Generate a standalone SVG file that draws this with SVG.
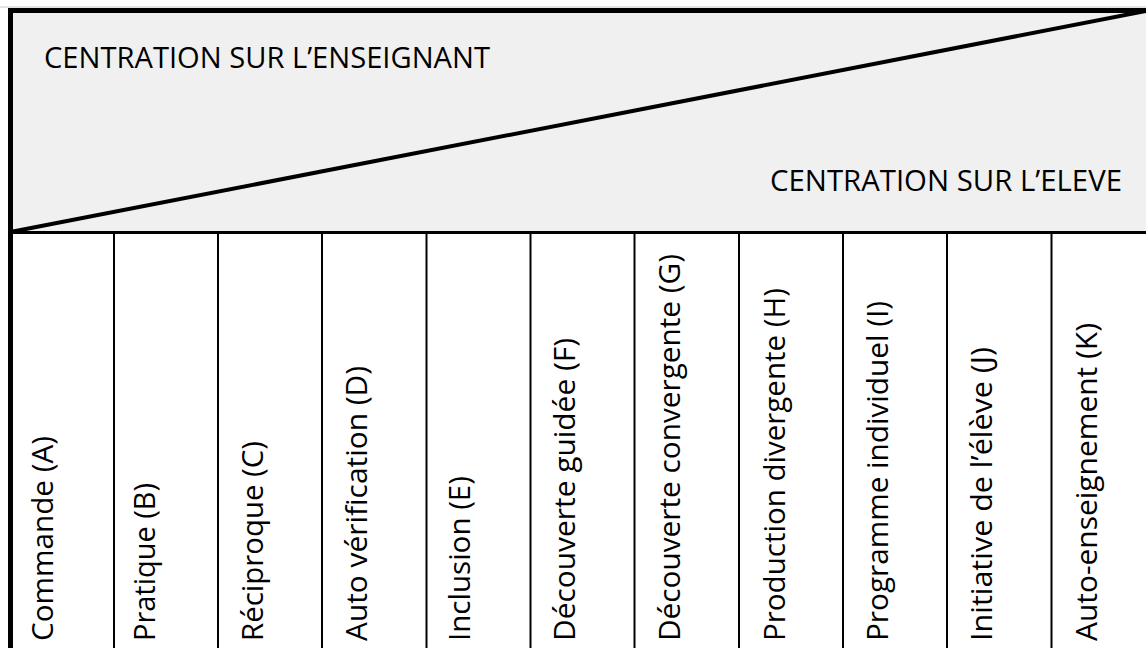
<svg xmlns="http://www.w3.org/2000/svg" width="1146" height="648" viewBox="0 0 1146 648">
  <style>
    .hdr { font-family: "Open Sans", "Liberation Sans", sans-serif; font-size: 30px; fill: #000; }
    .col { font-family: "Open Sans", "Liberation Sans", sans-serif; font-size: 28.5px; fill: #000; }
    .grid { stroke: #000; stroke-width: 2; fill: none; }
  </style>
  <rect x="0" y="0" width="1146" height="648" fill="#ffffff"/>
  <g id="header">
    <rect x="10.5" y="10.5" width="1140" height="222" fill="#f0f0f0"/>
    <line x1="0" y1="7" x2="1146" y2="7" stroke="#c8c8c8" stroke-width="1"/>
    <line x1="8" y1="10.5" x2="1146" y2="10.5" stroke="#000" stroke-width="5"/>
    <line x1="10.5" y1="232.5" x2="1146" y2="232.5" stroke="#000" stroke-width="3"/>
    <line x1="13" y1="231.5" x2="1146" y2="11" stroke="#000" stroke-width="4"/>
    <text class="hdr" x="44" y="68" textLength="446" lengthAdjust="spacingAndGlyphs">CENTRATION SUR L’ENSEIGNANT</text>
    <text class="hdr" x="770" y="191" textLength="352" lengthAdjust="spacingAndGlyphs">CENTRATION SUR L’ELEVE</text>
  </g>
  <g id="connectors">
    <line x1="10.5" y1="8" x2="10.5" y2="648" stroke="#000" stroke-width="5"/>
    <line class="grid" x1="114" y1="233" x2="114" y2="648"/>
    <line class="grid" x1="218" y1="233" x2="218" y2="648"/>
    <line class="grid" x1="322" y1="233" x2="322" y2="648"/>
    <line class="grid" x1="426.5" y1="233" x2="426.5" y2="648"/>
    <line class="grid" x1="530.5" y1="233" x2="530.5" y2="648"/>
    <line class="grid" x1="634.5" y1="233" x2="634.5" y2="648"/>
    <line class="grid" x1="739" y1="233" x2="739" y2="648"/>
    <line class="grid" x1="843" y1="233" x2="843" y2="648"/>
    <line class="grid" x1="947" y1="233" x2="947" y2="648"/>
    <line class="grid" x1="1051.5" y1="233" x2="1051.5" y2="648"/>
  </g>
  <g id="colA"><text class="col" transform="translate(53,641) rotate(-90)" textLength="205" lengthAdjust="spacingAndGlyphs">Commande (A)</text></g>
  <g id="colB"><text class="col" transform="translate(155,641) rotate(-90)" textLength="158" lengthAdjust="spacingAndGlyphs">Pratique (B)</text></g>
  <g id="colC"><text class="col" transform="translate(263,641) rotate(-90)" textLength="200" lengthAdjust="spacingAndGlyphs">Réciproque (C)</text></g>
  <g id="colD"><text class="col" transform="translate(367,641) rotate(-90)" textLength="275" lengthAdjust="spacingAndGlyphs">Auto vérification (D)</text></g>
  <g id="colE"><text class="col" transform="translate(470,641) rotate(-90)" textLength="165" lengthAdjust="spacingAndGlyphs">Inclusion (E)</text></g>
  <g id="colF"><text class="col" transform="translate(575,641) rotate(-90)" textLength="303" lengthAdjust="spacingAndGlyphs">Découverte guidée (F)</text></g>
  <g id="colG"><text class="col" transform="translate(680,641) rotate(-90)" textLength="387" lengthAdjust="spacingAndGlyphs">Découverte convergente (G)</text></g>
  <g id="colH"><text class="col" transform="translate(785,641) rotate(-90)" textLength="353" lengthAdjust="spacingAndGlyphs">Production divergente (H)</text></g>
  <g id="colI"><text class="col" transform="translate(888,641) rotate(-90)" textLength="340" lengthAdjust="spacingAndGlyphs">Programme individuel (I)</text></g>
  <g id="colJ"><text class="col" transform="translate(992,641) rotate(-90)" textLength="294" lengthAdjust="spacingAndGlyphs">Initiative de l’élève (J)</text></g>
  <g id="colK"><text class="col" transform="translate(1097,641) rotate(-90)" textLength="318" lengthAdjust="spacingAndGlyphs">Auto-enseignement (K)</text></g>
</svg>
